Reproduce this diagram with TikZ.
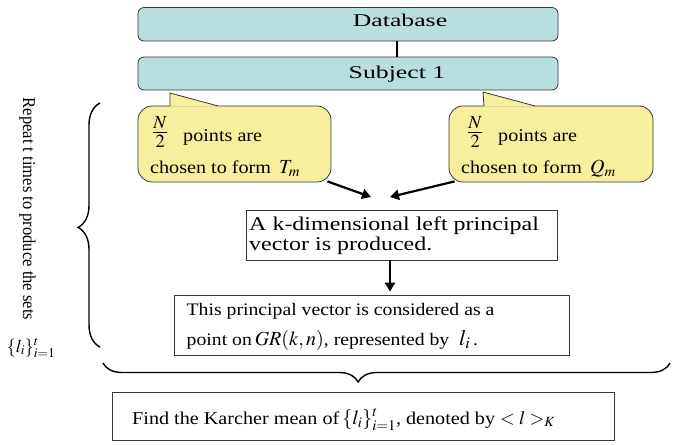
\documentclass[tikz,border=0pt]{standalone}
\usepackage{mathptmx}
\usepackage[no-math]{fontspec}
\setmainfont{Liberation Serif}
\newfontfamily\fA[FakeStretch=1.43]{Liberation Serif}
\newfontfamily\fB[FakeStretch=1.23]{Liberation Serif}
\newfontfamily\fC[FakeStretch=1.12]{Liberation Serif}
\newfontfamily\fD[FakeStretch=0.92]{Liberation Serif}
\newcommand\mth[2]{{\fontsize{#1}{#1}\selectfont$#2$}}
\usetikzlibrary{arrows.meta,decorations.pathreplacing}
\definecolor{dbcol}{RGB}{185,222,224}
\definecolor{ylw}{RGB}{246,239,158}
\definecolor{edge}{RGB}{55,55,55}
\tikzset{
  dbbox/.style={draw=edge, fill=dbcol, rounded corners=6pt, line width=0.8pt, inner sep=0pt},
  callbody/.style={draw=edge, fill=ylw, rounded corners=14pt, line width=0.8pt, inner sep=0pt},
  plainbox/.style={draw=edge, line width=0.8pt, inner sep=0pt},
  txt/.style={anchor=base west, inner sep=0pt},
  dbtxt/.style={anchor=base, inner sep=0pt, font=\fA\fontsize{18}{20}\selectfont},
  ctxt/.style={txt, font=\fC\fontsize{18}{20}\selectfont},
  btxt/.style={txt, font=\fB\fontsize{19.5}{22}\selectfont},
  arr/.style={line width=2.2pt, -{Triangle[length=9pt,width=10pt]}},
  bracedeco/.style={line width=1.4pt, decorate},
}
\begin{document}
\begin{tikzpicture}[x=1pt,y=-1pt]
\useasboundingbox (0,0) rectangle (674,444);
% top boxes
\node[dbbox, minimum width=420pt, minimum height=33.5pt] (db) at (348,24.3) {};
\node[dbtxt] (dbt) at (400,26.5) {Database};
\node[dbbox, minimum width=420pt, minimum height=33pt] (sub) at (348,73.5) {};
\node[dbtxt] (subt) at (397,78) {Subject 1};
\coordinate (cx) at (397,0);
\draw[line width=2.5pt] (db.south -| cx) -- (sub.north -| cx);
% callouts
\node[callbody, minimum width=193pt, minimum height=76pt] (c1) at (234.5,144) {};
\fill[ylw] (170,106.6) -- (170,93) -- (218,106.6) -- cycle;
\draw[edge, line width=0.8pt, line join=round] (170,106) -- (170,93) -- (218,106);
\node[callbody, minimum width=204pt, minimum height=76pt] (c2) at (551,144) {};
\fill[ylw] (484,106.6) -- (483,92) -- (535,106.6) -- cycle;
\draw[edge, line width=0.8pt, line join=round] (484,106) -- (483,92) -- (535,106);
\node[ctxt] (c1f) at (152,141) {\raisebox{2.5pt}{\mth{25}{\frac{N}{2}}}};
\node[ctxt] (c1a) at (183,141) {points are};
\node[ctxt] (c1b) at (150,173) {chosen to form\ \,\mth{20}{T_m}};
\node[ctxt] (c2f) at (467,141) {\raisebox{2.5pt}{\mth{25}{\frac{N}{2}}}};
\node[ctxt] (c2a) at (498,141) {points are};
\node[ctxt] (c2b) at (461,173) {chosen to form\ \,\mth{20}{Q_m}};
% box 1
\node[plainbox, minimum width=310.5pt, minimum height=50pt] (b1) at (401.75,235) {};
\node[btxt] (b1a) at (249,230) {A k-dimensional left principal};
\node[btxt] (b1b) at (249,250) {vector is produced.};
\coordinate (tipL) at (371,197);
\coordinate (tipR) at (390,197);
\draw[arr] ([xshift=-4pt,yshift=1pt]c1.south east) -- (tipL);
\draw[arr] ([xshift=6pt,yshift=1pt]c2.south west) -- (tipR);
% box 2
\node[plainbox, minimum width=395pt, minimum height=60pt] (b2) at (371.5,325) {};
\node[ctxt, font=\fC\fontsize{17.6}{20}\selectfont] (b2a) at (186.5,315) {This principal vector is considered as a};
\node[ctxt, font=\fC\fontsize{17.6}{20}\selectfont] (b2b) at (186.5,345) {point on\,\mth{20}{GR(k,n)}, represented by\ \ \mth{22}{l_i}\,.};
\coordinate (ar) at (390,0);
\draw[arr, shorten >=3pt] (b1.south -| ar) -- (b2.north -| ar);
% left brace and label
\coordinate (lbB) at (100,347);
\coordinate (lbT) at (100,103);
\draw[bracedeco, decoration={brace, amplitude=22pt, aspect=0.49}] (lbB) -- (lbT);
\node[rotate=-90, inner sep=0pt, font=\fD\fontsize{18}{20}\selectfont] (rep) at (27.5,209) {Repeat t times to produce the sets};
\node[inner sep=0pt, font=\fC\fontsize{18}{20}\selectfont] (set) at (31,348) {$\{l_i\}_{i=1}^t$};
% bottom brace
\coordinate (bbR) at (670,363);
\coordinate (bbL) at (103,363);
\draw[bracedeco, decoration={brace, amplitude=19pt, aspect=0.55}] (bbR) -- (bbL);
% bottom box
\node[plainbox, minimum width=502pt, minimum height=48pt] (b3) at (363,416) {};
\node[ctxt] (b3a) at (132,424) {Find the Karcher mean of\,\mth{20}{\{l_i\}_{i=1}^t}, denoted by\ \mth{19}{<l>_K}};
\end{tikzpicture}
\end{document}
